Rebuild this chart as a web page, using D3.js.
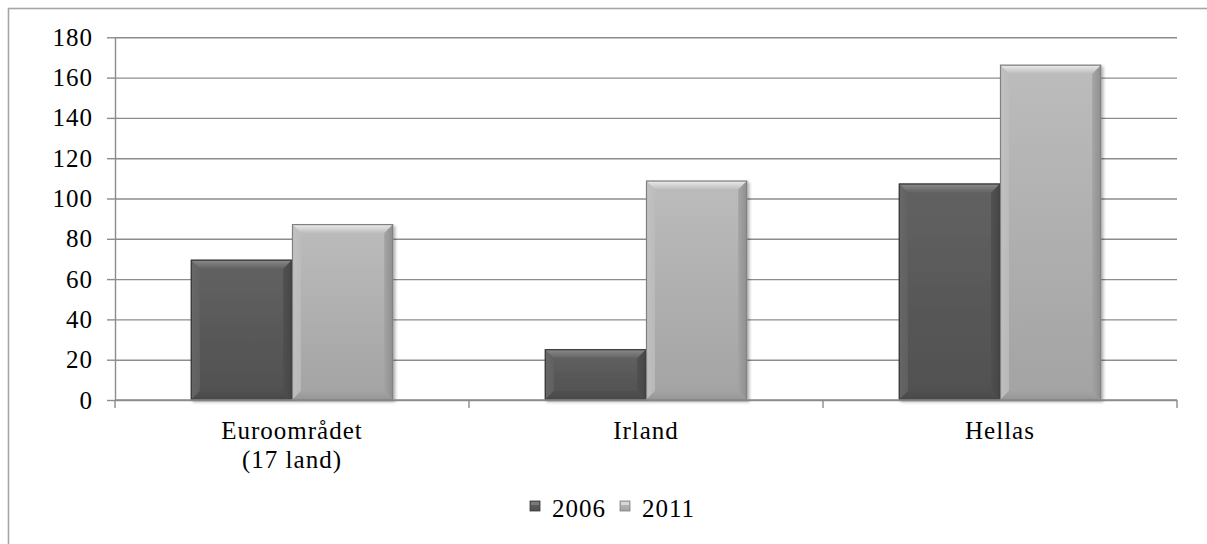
<!DOCTYPE html>
<html>
<head>
<meta charset="utf-8">
<script src="https://cdn.jsdelivr.net/npm/d3@7"></script>
<style>
  html, body { margin: 0; padding: 0; background: #fff; overflow: hidden; }
  svg { display: block; }
  text { font-family: "Liberation Serif", "Times New Roman", serif; fill: #000; letter-spacing: 1px; }
</style>
</head>
<body>
<svg id="chart" width="1207" height="544"></svg>
<script>
// Gross government debt, % of GDP
const categories = ["Euroområdet (17 land)", "Irland", "Hellas"];
const seriesNames = ["2006", "2011"];
const values2006 = [69.6, 25.2, 107.4];
const values2011 = [87.3, 108.9, 166.4];
const yTicks = [0, 20, 40, 60, 80, 100, 120, 140, 160, 180];

const W = 1207, H = 544;
const plot = { left: 115, right: 1177, top: 37.3, bottom: 400 };

const svg = d3.select("#chart");
const defs = svg.append("defs");

// colour schemes for the bevelled bars
const palette = {
  "2006": { face0: "#626262", face1: "#505050", bevelTop: "#8c8c8c", sideL: "#6a6a6a", sideR: "#444444", bottom: "#474747", stroke: "#3a3a3a" },
  "2011": { face0: "#bcbcbc", face1: "#a3a3a3", bevelTop: "#eeeeee", sideL: "#c4c4c4", sideR: "#8a8a8a", bottom: "#939393", stroke: "#808080" }
};

function vGrad(id, c0, c1) {
  const g = defs.append("linearGradient").attr("id", id).attr("x1", 0).attr("y1", 0).attr("x2", 0).attr("y2", 1);
  g.append("stop").attr("offset", "0%").attr("stop-color", c0);
  g.append("stop").attr("offset", "100%").attr("stop-color", c1);
}
function hGrad(id, c0, c1) {
  const g = defs.append("linearGradient").attr("id", id).attr("x1", 0).attr("y1", 0).attr("x2", 1).attr("y2", 0);
  g.append("stop").attr("offset", "0%").attr("stop-color", c0);
  g.append("stop").attr("offset", "100%").attr("stop-color", c1);
}
seriesNames.forEach(s => {
  const p = palette[s];
  vGrad("face" + s, p.face0, p.face1);
  vGrad("top" + s, p.bevelTop, p.face0);
  hGrad("left" + s, p.sideL, p.face0);
  hGrad("right" + s, p.face1, p.sideR);
  vGrad("bot" + s, p.face1, p.bottom);
});

const shadow = defs.append("filter").attr("id", "shadow").attr("x", "-10%").attr("y", "-10%").attr("width", "130%").attr("height", "130%");
shadow.append("feDropShadow").attr("dx", 2).attr("dy", 2).attr("stdDeviation", 1.8)
  .attr("flood-color", "#000").attr("flood-opacity", 0.3);

// outer frame
svg.append("rect")
  .attr("x", 8.5).attr("y", 8.5).attr("width", 1400).attr("height", 700)
  .attr("fill", "none").attr("stroke", "#a6a6a6").attr("stroke-width", 1.6);

// scales
const x0 = d3.scaleBand().domain(categories).range([plot.left, plot.right]).paddingInner(0).paddingOuter(0);
const x1 = d3.scaleBand().domain(seriesNames).range([0, x0.bandwidth()]).paddingInner(0).paddingOuter(0.75);
const y = d3.scaleLinear().domain([0, 180]).range([plot.bottom, plot.top]);

// gridlines
const grid = svg.append("g").attr("transform", `translate(${plot.left},0)`)
  .call(d3.axisLeft(y).tickValues(yTicks).tickSize(-(plot.right - plot.left)).tickFormat(""));
grid.select(".domain").remove();
grid.selectAll("line").attr("stroke", "#8c8c8c").attr("stroke-width", 1.4);

// y axis with outside ticks and labels
const yAxis = svg.append("g").attr("transform", `translate(${plot.left},0)`)
  .call(d3.axisLeft(y).tickValues(yTicks).tickSize(8).tickPadding(14).tickSizeOuter(0));
yAxis.select(".domain").attr("stroke", "#8c8c8c").attr("stroke-width", 1.4);
yAxis.selectAll(".tick line").attr("stroke", "#8c8c8c").attr("stroke-width", 1.4);
yAxis.selectAll(".tick text").style("font-family", "Liberation Serif, serif").style("font-size", "25px")
  .style("letter-spacing", "1px").attr("fill", "#000");

// bars
const rows = categories.map((c, i) => ({ cat: c, vals: [
  { s: "2006", v: values2006[i] }, { s: "2011", v: values2011[i] }
]}));

const barG = svg.append("g");
rows.forEach(r => {
  r.vals.forEach(d => {
    const bx = x0(r.cat) + x1(d.s);
    const bw = x1.bandwidth();
    const by = y(d.v);
    const bh = y(0) - by;
    const b = Math.min(9, bh / 2);
    const g = barG.append("g").attr("filter", "url(#shadow)");
    g.append("rect").attr("x", bx).attr("y", by).attr("width", bw).attr("height", bh).attr("fill", `url(#face${d.s})`);
    // left bevel
    g.append("polygon").attr("points", [[bx, by], [bx + b, by + b], [bx + b, by + bh - b], [bx, by + bh]].join(" "))
      .attr("fill", `url(#left${d.s})`).attr("opacity", 0.85);
    // right bevel
    g.append("polygon").attr("points", [[bx + bw, by], [bx + bw - b, by + b], [bx + bw - b, by + bh - b], [bx + bw, by + bh]].join(" "))
      .attr("fill", `url(#right${d.s})`).attr("opacity", 0.9);
    // bottom bevel
    g.append("polygon").attr("points", [[bx, by + bh], [bx + b, by + bh - b], [bx + bw - b, by + bh - b], [bx + bw, by + bh]].join(" "))
      .attr("fill", `url(#bot${d.s})`).attr("opacity", 0.8);
    // top bevel
    g.append("polygon").attr("points", [[bx, by], [bx + bw, by], [bx + bw - b, by + b], [bx + b, by + b]].join(" "))
      .attr("fill", `url(#top${d.s})`);
    g.append("rect").attr("x", bx + 0.5).attr("y", by + 0.5).attr("width", bw - 1).attr("height", bh - 1)
      .attr("fill", "none").attr("stroke", palette[d.s].stroke).attr("stroke-width", 1.2);
  });
});

// x axis baseline and category boundary ticks
const boundaries = categories.map(c => x0(c)).concat([x0(categories[categories.length - 1]) + x0.bandwidth()]);
svg.append("line").attr("x1", plot.left).attr("x2", plot.right).attr("y1", y(0)).attr("y2", y(0))
  .attr("stroke", "#8c8c8c").attr("stroke-width", 1.4);
svg.append("g").selectAll("line").data(boundaries).join("line")
  .attr("x1", d => d).attr("x2", d => d).attr("y1", y(0)).attr("y2", y(0) + 8)
  .attr("stroke", "#8c8c8c").attr("stroke-width", 1.4);

// category labels
const catLabels = svg.append("g");
categories.forEach(c => {
  const lines = c.replace(" (", "\n(").split("\n");
  const t = catLabels.append("text").attr("text-anchor", "middle").style("font-size", "25px")
    .attr("x", x0(c) + x0.bandwidth() / 2).attr("y", 439);
  lines.forEach((ln, i) => {
    t.append("tspan").attr("x", x0(c) + x0.bandwidth() / 2).attr("dy", i === 0 ? 0 : 29).text(ln);
  });
});

// legend
const legend = svg.append("g");
const legendX = [530, 620];
seriesNames.forEach((s, i) => {
  const p = palette[s];
  const lg = legend.append("g").attr("transform", `translate(${legendX[i]},501)`);
  lg.append("rect").attr("width", 10).attr("height", 10).attr("fill", `url(#face${s})`).attr("stroke", p.stroke).attr("stroke-width", 0.8);
  lg.append("rect").attr("x", 1).attr("y", 1).attr("width", 8).attr("height", 3).attr("fill", p.bevelTop).attr("opacity", 0.6);
  lg.append("text").attr("x", 22).attr("y", 16).style("font-size", "25px").text(s);
});
</script>
</body>
</html>
